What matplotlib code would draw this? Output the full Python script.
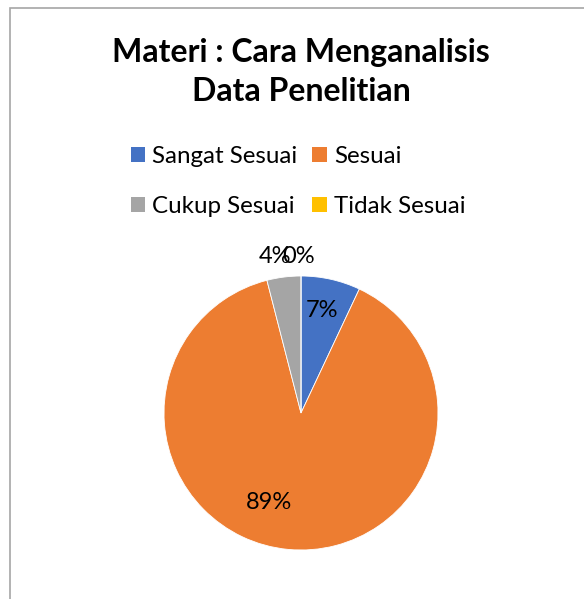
import numpy as np
import matplotlib.pyplot as plt
from matplotlib.patches import Rectangle, Patch

plt.rcParams['font.family'] = ['Lato', 'DejaVu Sans']

# data
categories = ['Sangat Sesuai', 'Sesuai', 'Cukup Sesuai', 'Tidak Sesuai']
values = [7, 89, 4, 0]
colors = ['#4472C4', '#ED7D31', '#A5A5A5', '#FFC000']
title = 'Materi : Cara Menganalisis\nData Penelitian'

W, H = 584, 599
fig = plt.figure(figsize=(W / 100, H / 100), dpi=100)
fig.patch.set_facecolor('white')

# chart border (left + top, cropped at right/bottom)
fig.add_artist(Rectangle((10 / W, -0.1), 1.2, 1.1 - 8 / H,
                         transform=fig.transFigure, fill=False,
                         edgecolor='#A6A6A6', linewidth=1.2))

# pie axes
cx, cy, r = 301, 413, 137
ax = fig.add_axes([(cx - r) / W, (H - cy - r) / H, 2 * r / W, 2 * r / H])
wedges, _ = ax.pie(values, colors=colors, startangle=90, counterclock=False,
                   radius=1, wedgeprops=dict(edgecolor='white', linewidth=0.6))
ax.set_xlim(-1, 1)
ax.set_ylim(-1, 1)
ax.set_aspect('equal')
ax.axis('off')

# data labels (Excel best fit, 4% and 0% overlap as in the original)
total = sum(values)
label_pos = [(0.15, 0.75), (-0.23, -0.65), (-0.19, 1.14), (-0.015, 1.14)]
for v, (x, y) in zip(values, label_pos):
    ax.text(x, y, f'{round(100 * v / total)}%', ha='center', va='center',
            fontsize=17, color='#000000', clip_on=False)

# title
fig.text(cx / W, 1 - 72 / H, title, ha='center', va='center',
         fontsize=23, fontweight='bold', linespacing=1.45)

# legend (row-major order: matplotlib fills column-wise)
handles = [Patch(facecolor=c, label=l) for c, l in zip(colors, categories)]
order = [0, 2, 1, 3]
fig.legend([handles[i] for i in order], [categories[i] for i in order],
           ncol=2, loc='center', bbox_to_anchor=(298 / W, 1 - 181.5 / H),
           frameon=False, fontsize=17.4, handlelength=0.6, handleheight=0.6,
           handletextpad=0.3, columnspacing=0.6, labelspacing=1.2)

fig.savefig('out.png', dpi=100)
